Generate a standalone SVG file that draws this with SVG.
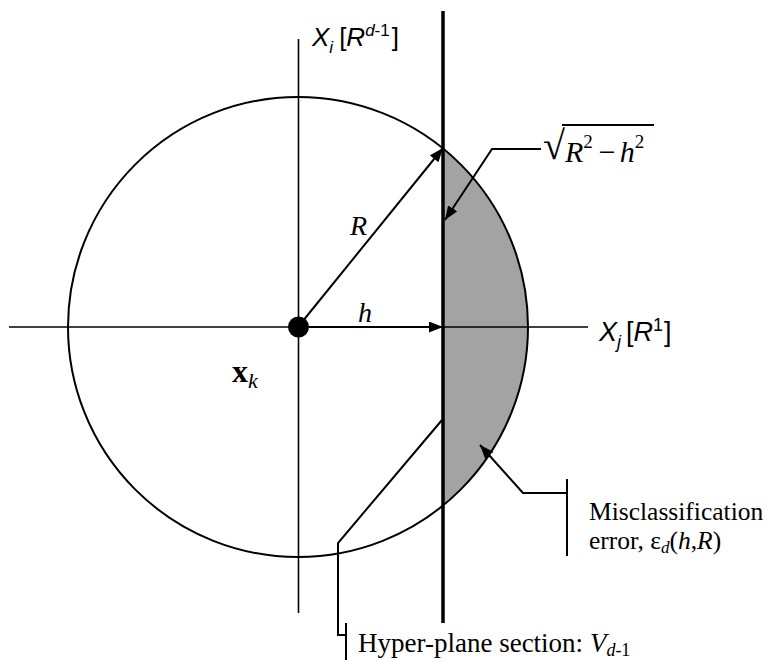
<svg xmlns="http://www.w3.org/2000/svg" width="767" height="660" viewBox="0 0 767 660">
<style>
.ln{fill:none;stroke:#000;stroke-width:2}
.ax{fill:none;stroke:#000;stroke-width:1.6}
.serif{font-family:"Liberation Serif","Times New Roman",serif;fill:#000}
.sans{font-family:"Liberation Sans",Arial,sans-serif;fill:#000}
.it{font-style:italic}
</style>
<defs>
<marker id="arr" markerUnits="userSpaceOnUse" markerWidth="16" markerHeight="12" refX="14" refY="5.5" orient="auto">
<path d="M0,0 L14,5.5 L0,11 z" fill="#000"/>
</marker>
</defs>
<g id="error-region">
<path d="M443,148.5 A230,230 0 0 1 443,505.5 Z" fill="#a3a3a3"/>
</g>
<g id="circle">
<circle cx="298" cy="327" r="230" class="ln"/>
</g>
<g id="axes">
<line x1="9" y1="327" x2="588" y2="327" class="ax"/>
<line x1="298.5" y1="39" x2="298.5" y2="613" class="ax"/>
</g>
<g id="hyperplane">
<line x1="443" y1="11" x2="443" y2="623" stroke="#000" stroke-width="3.5"/>
</g>
<g id="connectors">
<line x1="298" y1="327" x2="443" y2="148" class="ln" marker-end="url(#arr)"/>
<line x1="298" y1="327" x2="443" y2="327" class="ln" marker-end="url(#arr)"/>
<polyline points="541,149 492,149 445,220" class="ln" marker-end="url(#arr)"/>
<polyline points="567,493 523,493 480,445" class="ln" marker-end="url(#arr)"/>
<line x1="567" y1="479" x2="567" y2="556" class="ln"/>
<polyline points="442,420 338,543 338,635 346,635" class="ln"/>
<line x1="346" y1="623" x2="346" y2="660" class="ln"/>
</g>
<g id="center-point">
<circle cx="298.5" cy="327" r="10.5" fill="#000"/>
</g>
<g id="label-xi">
<text class="sans" font-size="26" x="312" y="46"><tspan class="it">X</tspan><tspan class="it" font-size="17" dy="7">i</tspan><tspan dy="-7" dx="6">[</tspan><tspan class="it">R</tspan><tspan class="it" font-size="17" dy="-10">d</tspan><tspan font-size="17">-1</tspan><tspan dy="10" dx="2">]</tspan></text>
</g>
<g id="label-xj">
<text class="sans" font-size="27" x="599" y="341"><tspan class="it">X</tspan><tspan class="it" font-size="18" dy="7">j</tspan><tspan dy="-7" dx="5">[</tspan><tspan class="it">R</tspan><tspan font-size="18" dy="-10">1</tspan><tspan dy="10" dx="1">]</tspan></text>
</g>
<g id="label-R">
<text class="serif it" font-size="28" x="350" y="235">R</text>
</g>
<g id="label-h">
<text class="serif it" font-size="28" x="358" y="322">h</text>
</g>
<g id="label-xk">
<text class="serif" font-size="32" x="232" y="382"><tspan font-weight="bold">x</tspan><tspan class="it" font-size="22" dy="6">k</tspan></text>
</g>
<g id="label-sqrt">
<text class="serif" font-size="40" x="543" y="159">√</text>
<line x1="562" y1="125" x2="654" y2="125" stroke="#000" stroke-width="2"/>
<text class="serif it" font-size="30" x="565" y="162">R<tspan font-size="19" dy="-14" font-style="normal">2</tspan><tspan dy="14" dx="6" font-style="normal">−</tspan><tspan dx="4">h</tspan><tspan font-size="19" dy="-14" font-style="normal">2</tspan></text>
</g>
<g id="label-error">
<text class="serif" font-size="25.5" x="589" y="520">Misclassification</text>
<text class="serif" font-size="25.5" x="589" y="549">error, ε<tspan class="it" font-size="17" dy="4">d</tspan><tspan dy="-4">(</tspan><tspan class="it">h</tspan>,<tspan class="it">R</tspan>)</text>
</g>
<g id="label-hyperplane">
<text class="serif" font-size="27" x="358" y="652">Hyper-plane section: <tspan class="it">V</tspan><tspan class="it" font-size="18" dy="4">d</tspan><tspan font-size="18">-1</tspan></text>
</g>
</svg>
